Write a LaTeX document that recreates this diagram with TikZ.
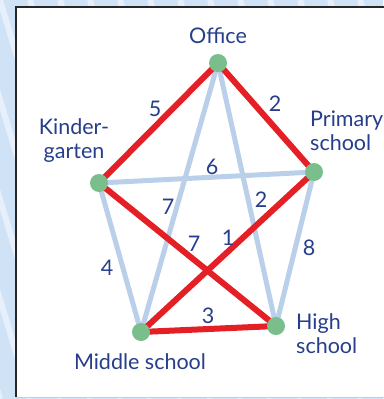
\documentclass[tikz,border=0pt]{standalone}
\usepackage{fontspec}
\setmainfont{Lato}
\usetikzlibrary{backgrounds}
\definecolor{routered}{RGB}{228,32,38}
\definecolor{linkblue}{RGB}{186,208,234}
\definecolor{sitegreen}{RGB}{122,190,140}
\definecolor{labelblue}{RGB}{38,62,140}
\definecolor{paneblue}{RGB}{208,226,245}
\pgfdeclarelayer{pane}
\pgfsetlayers{pane,background,main}

\begin{document}
\begin{tikzpicture}[x=1pt,y=-1pt,
  site/.style={circle,fill=sitegreen,inner sep=0pt,minimum size=18pt},
  place/.style={font=\fontsize{21.5}{24}\selectfont,text=labelblue,align=#1,inner sep=0pt},
  wt/.style={font=\fontsize{21.5}{24}\selectfont,text=labelblue,inner sep=0pt},
  link/.style={line width=5pt,linkblue},
  route/.style={line width=6pt,routered},
]
\useasboundingbox (0,0) rectangle (383,399);

% ==== PANE (striped margin, white card) ====
\begin{pgfonlayer}{pane}
  \fill[paneblue] (0,0) rectangle (383,399);
  \begin{scope}
    \clip (0,0) rectangle (383,399);
    \foreach \s in {-420,-390,...,400}
      \draw[white,opacity=.5,line width=6pt] (\s,0) -- (\s+120,399);
  \end{scope}
  \fill[white] (16,7) rectangle (390,397);
  \draw[black!20,line width=1pt] (16,397) -- (390,397);
  \draw[black!85,line width=2pt] (16,397) -- (16,7) -- (390,7);
\end{pgfonlayer}

% ==== SITES ====
\node[site] (O) at (218,63) {};
\node[site] (K) at (99,183) {};
\node[site] (P) at (314,172) {};
\node[site] (M) at (141,332) {};
\node[site] (H) at (276,326) {};

\node[place=center] (Olab) at (218,36) {Office};
\node[place=center] (Klab) at (74,141) {Kinder-\\garten};
\node[place=left,anchor=west] (Plab) at (310,131) {Primary\\school};
\node[place=center] (Mlab) at (140,362) {Middle school};
\node[place=left,anchor=west] (Hlab) at (296,334) {High\\school};

% ==== CONNECTIONS ====
\begin{pgfonlayer}{background}
  \draw[link] (O.center) -- (M.center);
  \draw[link] (O.center) -- (H.center);
  \draw[link] (K.center) -- (P.center);
  \draw[link] (K.center) -- (M.center);
  \draw[link] (P.center) -- (H.center);
  \draw[route] (O.center) -- (K.center);
  \draw[route] (O.center) -- (P.center);
  \draw[route] (K.center) -- (H.center);
  \draw[route] (P.center) -- (M.center);
  \draw[route] (M.center) -- (H.center);
\end{pgfonlayer}

% weights
\node[wt] (wOK) at (155,109) {5};
\node[wt] (wOP) at (275,104) {2};
\node[wt] (wKP) at (212,167) {6};
\node[wt] (wOM) at (168,207) {7};
\node[wt] (wOH) at (261,200) {2};
\node[wt] (wKH) at (194,244) {7};
\node[wt] (wPM) at (228,238) {1};
\node[wt] (wKM) at (107,268) {4};
\node[wt] (wPH) at (309,248) {8};
\node[wt] (wMH) at (208,316) {3};

\end{tikzpicture}
\end{document}
